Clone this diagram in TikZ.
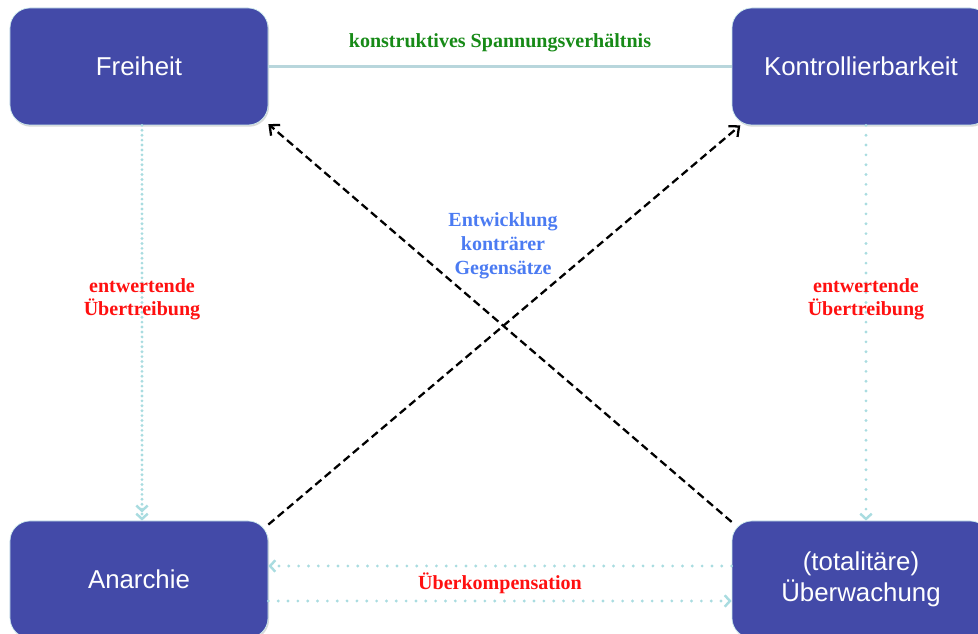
\documentclass[tikz,border=0pt]{standalone}
\usepackage{fontspec}
\setmainfont{Liberation Serif}
\setsansfont{Liberation Sans}
\usetikzlibrary{arrows.meta,shadows}
\definecolor{boxblue}{HTML}{434AA8}
\definecolor{linecyan}{HTML}{A9DCE0}
\definecolor{linegray}{HTML}{B8D6DC}
\definecolor{lblgreen}{HTML}{178A17}
\definecolor{lblred}{HTML}{FF1010}
\definecolor{lblblue}{HTML}{4B7BF2}
\tikzset{
  box/.style={rectangle, rounded corners=0.4cm, minimum width=5.16cm, minimum height=2.34cm,
    fill=boxblue, draw=linecyan!60!white, thin, text=white, align=center,
    font=\sffamily\fontsize{14.7}{18}\selectfont,
    drop shadow={shadow xshift=0.6pt, shadow yshift=-1pt, opacity=0.3}},
  lbl/.style={font=\bfseries\fontsize{11.4}{13.6}\selectfont, align=center},
  cyanline/.style={linecyan, line width=1.8pt, line cap=round, dash pattern=on 0pt off 5.6pt},
  cyantip/.style={-{Straight Barb[length=3pt,width=6.5pt,line width=1.4pt]}},
  dasharrow/.style={black, line width=1.3pt, dash pattern=on 4.5pt off 2.5pt,
    -{Straight Barb[length=4.5pt,width=8pt,line width=1.3pt]}}
}
\begin{document}
\begin{tikzpicture}
      \clip (0,0) rectangle (19.56,12.68);
      \draw
        (2.78,11.35) node[box] (frei){Freiheit}
        (17.22,11.35) node[box] (kontr){Kontrollierbarkeit}
        (2.78,1.09) node[box] (anar){Anarchie}
        (17.22,1.09) node[box] (uberw){(totalitäre)\\Überwachung};
      \begin{scope}[-]
        \draw[linegray, line width=1.6pt] (frei) -- (kontr)
          node[lbl, midway, above=0.15cm, text=lblgreen]
          {konstruktives Spannungsverhältnis};
        \draw[cyanline, dash pattern=on 0pt off 2.8pt,
          -{Straight Barb[length=3pt,width=6.5pt,line width=1.4pt]Straight Barb[length=3pt,width=6.5pt,line width=1.4pt]}]
          ([xshift=0.06cm]frei.south) -- ([xshift=0.06cm]anar.north)
          node[lbl, pos=0.44, text=lblred] {entwertende\\Übertreibung};
        \draw[cyanline, cyantip]
          ([xshift=0.1cm]kontr.south) -- ([xshift=0.1cm]anar.north -| uberw.north)
          node[lbl, pos=0.44, text=lblred] {entwertende\\Übertreibung};
        \draw[dasharrow] (anar.23) -- (kontr.206);
        \draw[dasharrow] (uberw.156) -- (frei.336);
        \draw[cyanline, cyantip]
          ([yshift=0.27cm]uberw.west) -- ([yshift=0.27cm]anar.east);
        \draw[cyanline, cyantip]
          ([yshift=-0.43cm]anar.east) -- ([yshift=-0.43cm]uberw.west);
        \path (anar.east) -- (uberw.west)
          node[lbl, midway, yshift=-0.07cm, text=lblred] (komp) {Überkompensation};
      \end{scope}
      \node[lbl, text=lblblue] (entw) at (10.06,7.76) {Entwicklung\\konträrer\\Gegensätze};
    \end{tikzpicture}
\end{document}
